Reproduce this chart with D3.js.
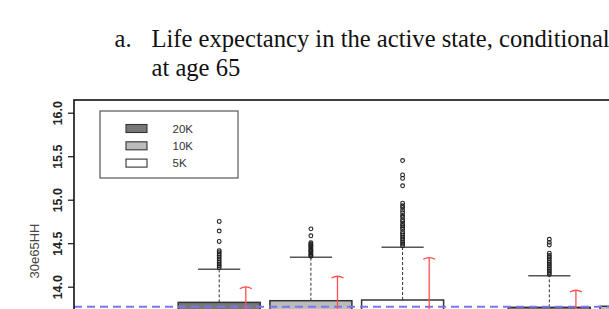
<!DOCTYPE html>
<html>
<head>
<meta charset="utf-8">
<script src="https://cdn.jsdelivr.net/npm/d3@7"></script>
<style>
  html, body { margin: 0; padding: 0; background: #fff; }
  svg { display: block; }
</style>
</head>
<body>
<svg id="chart" width="609" height="309"></svg>
<script>
// ---- data ----
const titleLines = ["a.", "Life expectancy in the active state, conditional", "at age 65"];
const yLabel = "30e65HH";
const yTicks = [14.0, 14.5, 15.0, 15.5, 16.0];
const legendLabels = ["20K", "10K", "5K"];
const legendFills = ["#777777", "#bbbbbb", "#ffffff"];

const boxSeries = ["20K", "10K", "5K", "20K", "10K"];
const boxAt = [1, 2, 3, 4.6, 5.6];
const boxQ1 = [13.45, 13.47, 13.48, 13.40, 13.42];
const boxMedian = [13.62, 13.64, 13.65, 13.57, 13.59];
const boxQ3 = [13.82, 13.839, 13.847, 13.763, 13.775];
const whiskerHigh = [14.20, 14.338, 14.453, 14.126, 14.15];
const whiskerLow = [13.10, 13.12, 13.10, 13.05, 13.07];
const refValues = [14.0, 14.123, 14.338, 13.962, 14.05];
const outliers = [
  [14.22, 14.24, 14.26, 14.28, 14.30, 14.32, 14.34, 14.36, 14.38, 14.40, 14.415, 14.52, 14.64, 14.75],
  [14.35, 14.36, 14.37, 14.385, 14.40, 14.41, 14.42, 14.43, 14.445, 14.46, 14.47, 14.48, 14.49, 14.505, 14.585, 14.665],
  [14.47, 14.49, 14.51, 14.53, 14.55, 14.57, 14.59, 14.61, 14.63, 14.66, 14.68, 14.70, 14.72, 14.75, 14.77, 14.80, 14.82, 14.85, 14.88, 14.91, 14.93, 14.96, 15.16, 15.245, 15.285, 15.45],
  [14.14, 14.16, 14.18, 14.20, 14.22, 14.24, 14.26, 14.28, 14.30, 14.32, 14.34, 14.36, 14.385, 14.48, 14.51, 14.545],
  []
];
const refLine = 13.77;

// ---- layout ----
const svg = d3.select("#chart");
const plotLeft = 74, plotTop = 100, plotRight = 620, plotBottom = 400;

const y = d3.scaleLinear().domain([14, 16]).range([286.7, 112.7]);
const x = d3.scaleLinear().domain([1, 2]).range([219.2, 310.9]);
const fillOf = s => legendFills[legendLabels.indexOf(s)];
const unit = x(2) - x(1);
const boxHalf = 0.447 * unit;
const capHalf = 0.23 * unit;

// title
const title = svg.append("g").attr("font-family", "Liberation Serif, Times New Roman, serif")
  .attr("font-size", 24.6).attr("fill", "#111");
title.append("text").attr("x", 114.5).attr("y", 47).text(titleLines[0]);
title.append("text").attr("x", 151.5).attr("y", 47).text(titleLines[1]);
title.append("text").attr("x", 151.5).attr("y", 76).text(titleLines[2]);

svg.append("defs").append("clipPath").attr("id", "plotclip")
  .append("rect").attr("x", plotLeft).attr("y", plotTop).attr("width", plotRight - plotLeft).attr("height", plotBottom - plotTop);

const plot = svg.append("g").attr("clip-path", "url(#plotclip)");

// boxes
boxAt.forEach((at, i) => {
  const cx = x(at);
  const g = plot.append("g");
  g.append("line").attr("x1", cx).attr("x2", cx)
    .attr("y1", y(boxQ3[i])).attr("y2", y(whiskerHigh[i]))
    .attr("stroke", "#333").attr("stroke-width", 1).attr("stroke-dasharray", "3,2");
  g.append("line").attr("x1", cx).attr("x2", cx)
    .attr("y1", y(boxQ1[i])).attr("y2", y(whiskerLow[i]))
    .attr("stroke", "#333").attr("stroke-width", 1).attr("stroke-dasharray", "3,2");
  [whiskerHigh[i], whiskerLow[i]].forEach(v => {
    g.append("line").attr("x1", cx - capHalf).attr("x2", cx + capHalf)
      .attr("y1", y(v)).attr("y2", y(v))
      .attr("stroke", "#555").attr("stroke-width", 1.6);
  });
  g.append("rect").attr("x", cx - boxHalf).attr("width", 2 * boxHalf)
    .attr("y", y(boxQ3[i])).attr("height", y(boxQ1[i]) - y(boxQ3[i]))
    .attr("fill", fillOf(boxSeries[i])).attr("stroke", "#333").attr("stroke-width", 1.5);
  g.append("line").attr("x1", cx - boxHalf).attr("x2", cx + boxHalf)
    .attr("y1", y(boxMedian[i])).attr("y2", y(boxMedian[i]))
    .attr("stroke", "#111").attr("stroke-width", 3);
  g.selectAll("circle").data(outliers[i]).join("circle")
    .attr("cx", cx).attr("cy", d => y(d)).attr("r", 1.9)
    .attr("fill", "none").attr("stroke", "#222").attr("stroke-width", 1.1);
});

// reference dashed line
plot.append("line").attr("x1", plotLeft).attr("x2", plotRight)
  .attr("y1", y(refLine)).attr("y2", y(refLine))
  .attr("stroke", "#7878ee").attr("stroke-width", 2).attr("stroke-dasharray", "8,5");

// red arrows
boxAt.forEach((at, i) => {
  const ax = x(at + 0.29);
  const ty = y(refValues[i]);
  plot.append("line").attr("x1", ax).attr("x2", ax).attr("y1", plotBottom).attr("y2", ty)
    .attr("stroke", "#ff5050").attr("stroke-width", 1.3);
  plot.append("path").attr("d", `M${ax - 6},${ty + 2} Q${ax},${ty - 1.5} ${ax + 6},${ty + 2}`)
    .attr("fill", "none").attr("stroke", "#ff5050").attr("stroke-width", 1.3);
});

// plot frame
svg.append("rect").attr("x", plotLeft).attr("y", plotTop)
  .attr("width", plotRight - plotLeft).attr("height", plotBottom - plotTop)
  .attr("fill", "none").attr("stroke", "#111").attr("stroke-width", 1.6);

// y axis
const axisG = svg.append("g").attr("transform", `translate(${plotLeft},0)`)
  .call(d3.axisLeft(y).tickValues(yTicks).tickSize(6).tickPadding(0).tickFormat(d3.format(".1f")));
axisG.select(".domain").remove();
axisG.selectAll(".tick line").attr("stroke", "#111").attr("stroke-width", 1.2);
axisG.selectAll(".tick text")
  .attr("font-family", "Liberation Sans, Arial, sans-serif").attr("font-size", 12.5)
  .attr("fill", "#222").attr("font-weight", "bold")
  .attr("transform", "translate(-16,0) rotate(-90)")
  .attr("x", 0).attr("dy", "0.35em").attr("text-anchor", "middle");

svg.append("text").attr("transform", "translate(39,251) rotate(-90)")
  .attr("text-anchor", "middle").attr("font-family", "Liberation Sans, Arial, sans-serif")
  .attr("font-size", 13).attr("fill", "#444").text(yLabel);

// legend
const leg = svg.append("g");
leg.append("rect").attr("x", 100).attr("y", 111).attr("width", 138).attr("height", 67)
  .attr("fill", "#fff").attr("stroke", "#555").attr("stroke-width", 1.2);
legendLabels.forEach((lab, i) => {
  const cy = 128.5 + i * 17.3;
  leg.append("rect").attr("x", 126).attr("y", cy - 4).attr("width", 21).attr("height", 8)
    .attr("fill", legendFills[i]).attr("stroke", "#333").attr("stroke-width", 1.1);
  leg.append("text").attr("x", 172.5).attr("y", cy).attr("dy", "0.36em")
    .attr("font-family", "Liberation Sans, Arial, sans-serif").attr("font-size", 11.5)
    .attr("fill", "#333").text(lab);
});
</script>
</body>
</html>
